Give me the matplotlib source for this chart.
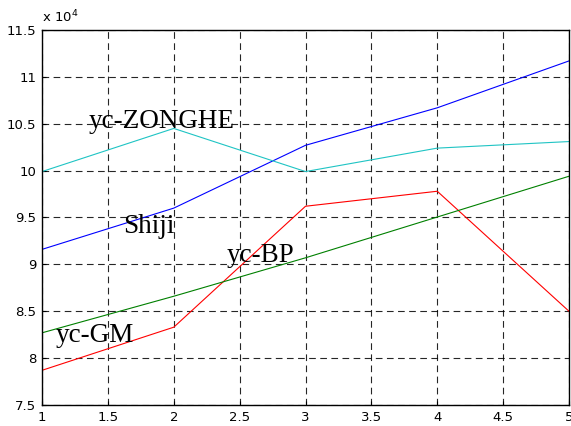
import numpy as np
import matplotlib
matplotlib.use("Agg")
import matplotlib.pyplot as plt

# data (raw values, axis shown in units of 1e4)
x = [1, 2, 3, 4, 5]
shiji = [91600, 96000, 102700, 106700, 111700]
yc_zonghe = [99900, 104500, 99900, 102400, 103100]
yc_bp = [78700, 83300, 96200, 97800, 85000]
yc_gm = [82700, 86600, 90700, 95050, 99400]

xticks = [1, 1.5, 2, 2.5, 3, 3.5, 4, 4.5, 5]
yticks = [7.5, 8, 8.5, 9, 9.5, 10, 10.5, 11, 11.5]

fig = plt.figure(figsize=(5.71, 4.26), dpi=100)
ax = fig.add_axes([0.0736, 0.0493, 0.9229, 0.8803])

scale = 1e4
ax.plot(x, np.array(shiji) / scale, color="#0000ff", lw=0.8)
ax.plot(x, np.array(yc_zonghe) / scale, color="#1fc4c4", lw=0.8)
ax.plot(x, np.array(yc_bp) / scale, color="#ff0000", lw=0.8)
ax.plot(x, np.array(yc_gm) / scale, color="#008000", lw=0.8)

ax.set_xlim(1, 5)
ax.set_ylim(7.5, 11.5)
ax.set_xticks(xticks)
ax.set_yticks(yticks)
ax.set_xticklabels([f"{t:g}" for t in xticks])
ax.set_yticklabels([f"{t:g}" for t in yticks])
ax.tick_params(direction="in", length=3, labelsize=9.5, pad=4)
for s in ax.spines.values():
    s.set_linewidth(1.0)
    s.set_color("black")

ax.grid(True, color="black", linestyle=(0, (6, 4)), linewidth=0.8, alpha=0.85)
ax.set_axisbelow(True)

# curve labels
serif = ["Liberation Serif", "DejaVu Serif"]
ax.text(1.357, 10.455, "yc-ZONGHE", family=serif, fontsize=19.5)
ax.text(1.615, 9.335, "Shiji", family=serif, fontsize=19.5)
ax.text(2.40, 9.025, "yc-BP", family=serif, fontsize=19.5)
ax.text(1.10, 8.175, "yc-GM", family=serif, fontsize=19.5)

ax.text(0.0, 1.012, "x 10$^4$", transform=ax.transAxes, fontsize=9.5,
        ha="left", va="bottom")

fig.savefig("out.png", dpi=100)
